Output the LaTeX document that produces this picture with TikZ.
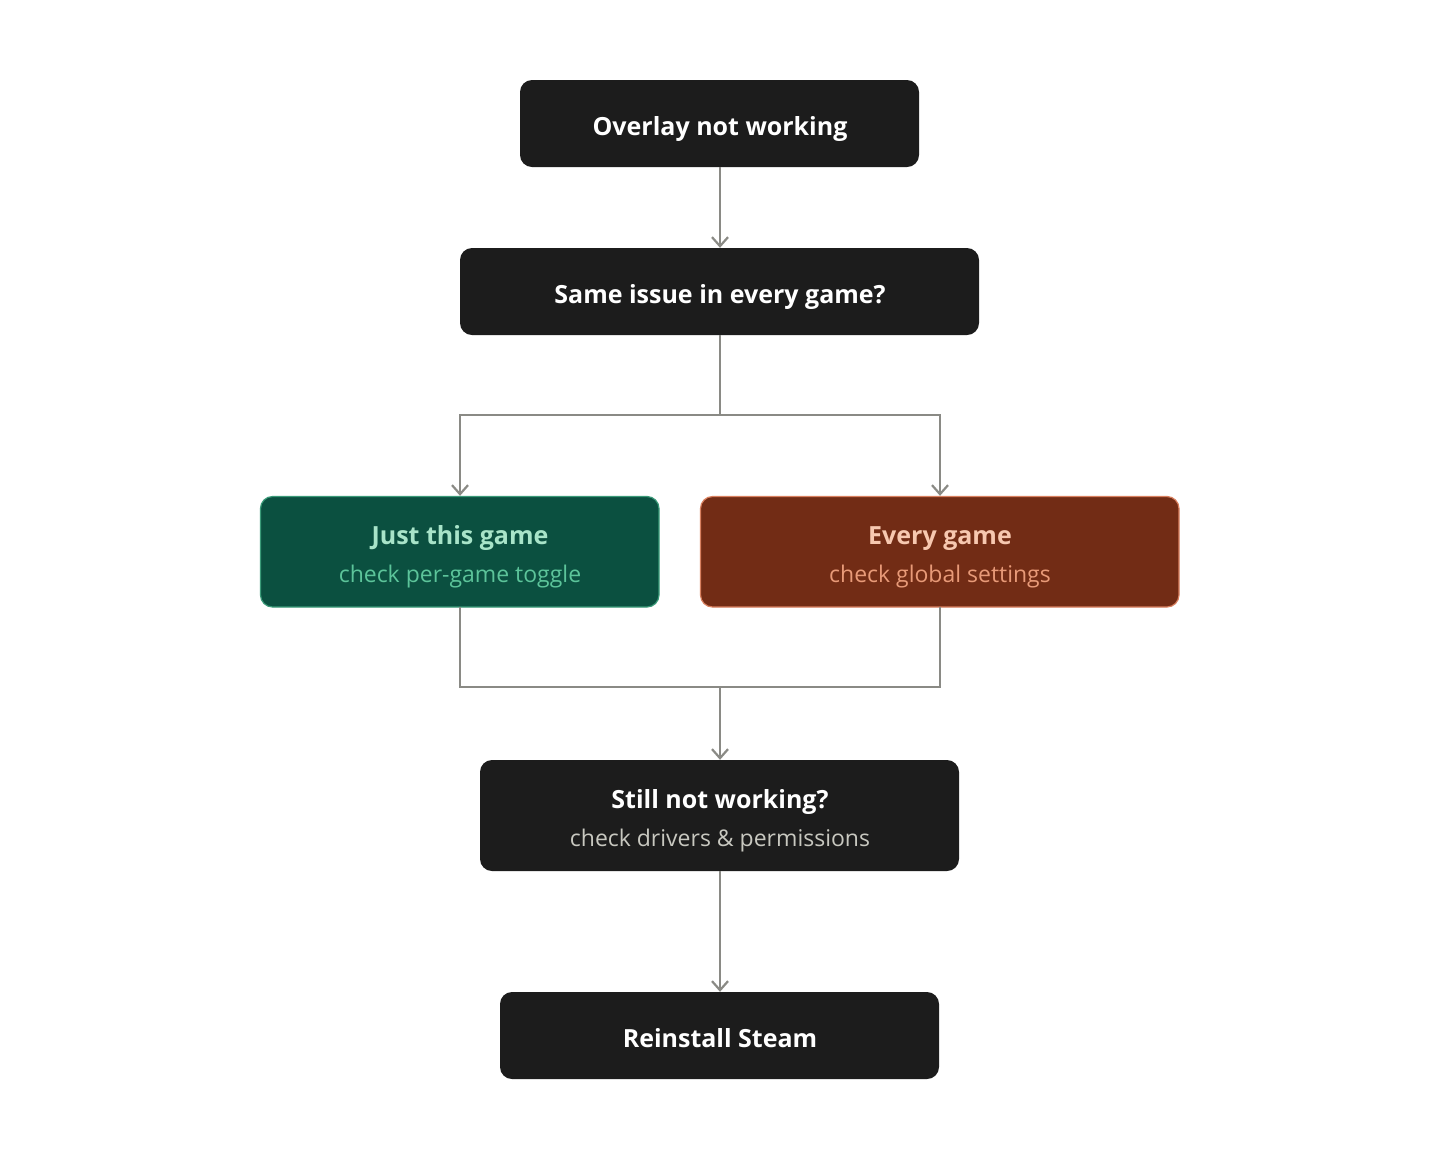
\documentclass[tikz,border=0pt]{standalone}
\usepackage{fontspec}
\setmainfont{Open Sans}
\usetikzlibrary{arrows.meta}
\definecolor{darkbox}{HTML}{1C1C1C}
\definecolor{conn}{HTML}{8A8A85}
\definecolor{greenfill}{HTML}{0B5040}
\definecolor{greenline}{HTML}{3A9A78}
\definecolor{greentitle}{HTML}{A8E4C9}
\definecolor{greensub}{HTML}{5CC49A}
\definecolor{redfill}{HTML}{722C15}
\definecolor{redline}{HTML}{D9805F}
\definecolor{redtitle}{HTML}{F7C8B0}
\definecolor{redsub}{HTML}{E89A78}
\definecolor{darksub}{HTML}{C8C8C0}
\tikzset{
  box/.style={rounded corners=12pt, inner sep=0pt},
  darkb/.style={box, fill=darkbox},
  greenb/.style={box, fill=greenfill, draw=greenline, line width=1.2pt},
  redb/.style={box, fill=redfill, draw=redline, line width=1.2pt},
  anch/.style={inner sep=0pt},
  ttl/.style={font=\fontsize{25}{30}\selectfont\bfseries, inner sep=0pt, anchor=base},
  sub/.style={font=\fontsize{23}{28}\selectfont, inner sep=0pt, anchor=base},
  conline/.style={draw=conn, line width=2.3pt},
  arr/.style={conline, -{Straight Barb[length=9pt, width=16pt, line width=2.2pt]}},
}
\begin{document}
\begin{tikzpicture}[x=1pt, y=-1pt]
\useasboundingbox (0,0) rectangle (1440,1160);
\fill[white] (0,0) rectangle (1440,1160);
% boxes
\path[darkb] (520,80) rectangle (919,167);
\node[anch, minimum width=399pt, minimum height=87pt] (b1) at (720,123.5) {};
\path[darkb] (460,248) rectangle (979,335);
\node[anch, minimum width=519pt, minimum height=87pt] (b2) at (720,291.5) {};
\path[greenb] (260.5,496.5) rectangle (659,607);
\node[anch, minimum width=399pt, minimum height=111pt] (g) at (460,551.5) {};
\path[redb] (700.5,496.5) rectangle (1179,607);
\node[anch, minimum width=479pt, minimum height=111pt] (r) at (940,551.5) {};
\path[darkb] (480,760) rectangle (959,871);
\node[anch, minimum width=479pt, minimum height=111pt] (b4) at (720,815.5) {};
\path[darkb] (500,992) rectangle (939,1079);
\node[anch, minimum width=439pt, minimum height=87pt] (b5) at (720,1035.5) {};
% texts
\node[ttl, text=white] (t1) at (720,135) {Overlay not working};
\node[ttl, text=white] (t2) at (720,303) {Same issue in every game?};
\node[ttl, text=greentitle] (tg) at (460,544) {Just this game};
\node[sub, text=greensub] (sg) at (460,582) {check per-game toggle};
\node[ttl, text=redtitle] (tr) at (940,544) {Every game};
\node[sub, text=redsub] (sr) at (940,582) {check global settings};
\node[ttl, text=white] (t4) at (720,808) {Still not working?};
\node[sub, text=darksub] (s4) at (720,846) {check drivers \& permissions};
\node[ttl, text=white] (t5) at (720,1047) {Reinstall Steam};
% connectors
\coordinate (split) at (720,415);
\coordinate (merge) at (720,687);
\draw[arr] (b1.south) -- (b2.north);
\draw[conline] (b2.south) -- (split);
\draw[arr] (split) -| (g.north);
\draw[arr] (split) -| (r.north);
\draw[conline] (g.south) |- (merge);
\draw[conline] (r.south) |- (merge);
\draw[arr] (merge) -- (b4.north);
\draw[arr] (b4.south) -- (b5.north);
\end{tikzpicture}
\end{document}
